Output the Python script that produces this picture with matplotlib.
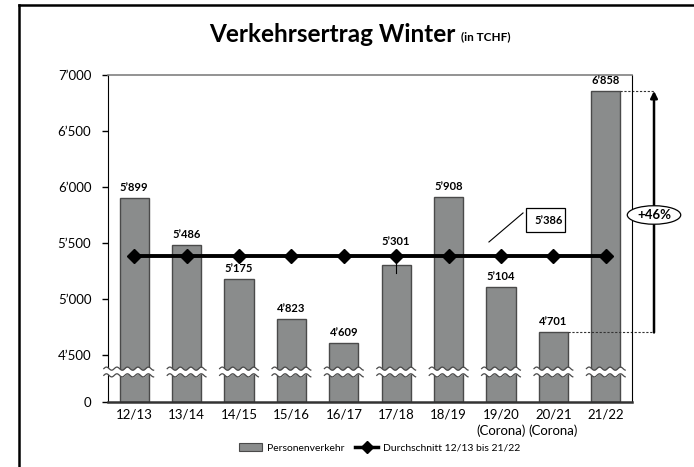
import matplotlib
matplotlib.use("Agg")
import matplotlib.pyplot as plt
import numpy as np
from matplotlib.lines import Line2D
from matplotlib.patches import Patch, Ellipse, Rectangle

plt.rcParams['font.family'] = ['Lato', 'DejaVu Sans']

# ---------------- data ----------------
seasons = ["12/13", "13/14", "14/15", "15/16", "16/17", "17/18", "18/19",
           "19/20\n(Corona)", "20/21\n(Corona)", "21/22"]
ertrag = [5899, 5486, 5175, 4823, 4609, 5301, 5908, 5104, 4701, 6858]
durchschnitt = 5386
y_ticks = [4500, 5000, 5500, 6000, 6500, 7000]
zuwachs_text = "+46%"

BASE = 4080     # where the broken axis shows "0"
BREAK = 4348    # position of the wavy break


def fmt(v):
    return f"{v:,}".replace(",", "\u2019")


W, H = 694, 467
fig = plt.figure(figsize=(W / 100, H / 100), dpi=100)
ax = fig.add_axes([108 / W, 1 - 402 / H, (632 - 108) / W, (402 - 75) / H])

x = np.arange(len(seasons))
bw = 0.56
bar_col = '#8a8c8c'
edge_col = '#4a4a4a'
ax.bar(x, np.array(ertrag) - BASE, bottom=BASE, width=bw, color=bar_col,
       edgecolor=edge_col, linewidth=1.0, zorder=2)

# average line
ax.plot(x, [durchschnitt] * len(x), color='black', lw=2.8, marker='D',
        markersize=7, zorder=4)
# little tick inside 17/18 bar
ax.plot([x[5], x[5]], [durchschnitt, 5230], color='black', lw=0.8, zorder=3)

# value labels (the 17/18 one sits above the average line)
for xi, v in zip(x, ertrag):
    yl = v + 45
    if durchschnitt - 150 < v < durchschnitt:
        yl = durchschnitt + 75
    ax.text(xi, yl, fmt(v), ha='center', va='bottom', fontsize=8,
            fontweight='bold', zorder=5)

# wavy axis break over each bar
amp, per = 14, 0.2
for i, xi in enumerate(x):
    x0 = xi - bw / 2 - 0.09
    if i == 0:
        x0 = -0.58
    x1 = xi + bw / 2 + 0.09
    xs = np.linspace(x0, x1, 80)
    wave = amp * np.sin(2 * np.pi * (xs - x0) / per)
    lo = BREAK - 30 + wave
    hi = BREAK + 30 + wave
    ax.fill_between(xs, lo, hi, color='white', zorder=6, clip_on=False, lw=0)
    ax.plot(xs, lo, color=edge_col, lw=0.9, zorder=7, clip_on=False)
    ax.plot(xs, hi, color=edge_col, lw=0.9, zorder=7, clip_on=False)

ax.set_xlim(-0.5, len(x) - 0.5)
ax.set_ylim(BASE, 7000)
ax.set_yticks([BASE] + y_ticks)
ax.set_yticklabels(["0"] + [fmt(t) for t in y_ticks], fontsize=9.5)
ax.set_xticks(x)
ax.set_xticklabels(seasons, fontsize=9.5, linespacing=1.3)
ax.tick_params(axis='x', length=0, pad=5)
ax.tick_params(axis='y', length=4, width=1, pad=8)

ax.spines['top'].set_color('#808080')
ax.spines['top'].set_linewidth(1.2)
ax.spines['left'].set_color('black')
ax.spines['right'].set_color('black')
ax.spines['bottom'].set_color('#333333')
ax.spines['bottom'].set_linewidth(1.8)

# 5'386 callout
ax.plot([6.77, 7.42], [5509, 5768], color='black', lw=0.8, zorder=5)
ax.add_patch(Rectangle((7.47, 5598), 0.76, 215, facecolor='white',
                       edgecolor='black', lw=0.9, zorder=5))
ax.text(8.18, 5705, fmt(durchschnitt), ha='right', va='center', fontsize=8,
        fontweight='bold', zorder=6)

# growth arrow outside axes
xa = 9.92
ax.plot([x[9] + bw / 2, xa], [ertrag[9]] * 2, color='#333333', lw=0.8,
        ls=(0, (2, 1.5)), clip_on=False)
ax.plot([x[8] + bw / 2, xa], [ertrag[8]] * 2, color='#333333', lw=0.8,
        ls=(0, (2, 1.5)), clip_on=False)
ax.annotate("", xy=(xa, ertrag[9]), xytext=(xa, ertrag[8]),
            arrowprops=dict(arrowstyle='-|>', color='black', lw=1.8,
                            mutation_scale=10, shrinkA=0, shrinkB=0),
            annotation_clip=False)
ax.add_patch(Ellipse((xa, 5750), 1.02, 165, facecolor='white',
                     edgecolor='black', lw=0.9, zorder=6, clip_on=False))
ax.text(xa, 5750, zuwachs_text, ha='center', va='center', fontsize=9.5,
        fontweight='bold', zorder=7)

# title
fig.text(456 / W, 1 - 34 / H, "Verkehrsertrag Winter", ha='right', va='center',
         fontsize=17.5, fontweight='bold')
fig.text(461 / W, 1 - 37 / H, "(in TCHF)", ha='left', va='center',
         fontsize=8.5, fontweight='bold')

# outer frame
fig.add_artist(Line2D([19 / W, 19 / W], [0, 1 - 5 / H], color='black', lw=1.8))
fig.add_artist(Line2D([19 / W, 1], [1 - 5 / H, 1 - 5 / H], color='black', lw=1.8))

handles = [Patch(facecolor=bar_col, edgecolor=edge_col, lw=0.8),
           Line2D([0], [0], color='black', lw=2.5, marker='D', markersize=6)]
fig.legend(handles, ["Personenverkehr", "Durchschnitt 12/13 bis 21/22"],
           loc='center', bbox_to_anchor=(380 / W, 1 - 448 / H), ncol=2,
           frameon=False, fontsize=7.5, handlelength=2.2, columnspacing=1.0,
           handletextpad=0.5)

fig.savefig("out.png", dpi=100)
